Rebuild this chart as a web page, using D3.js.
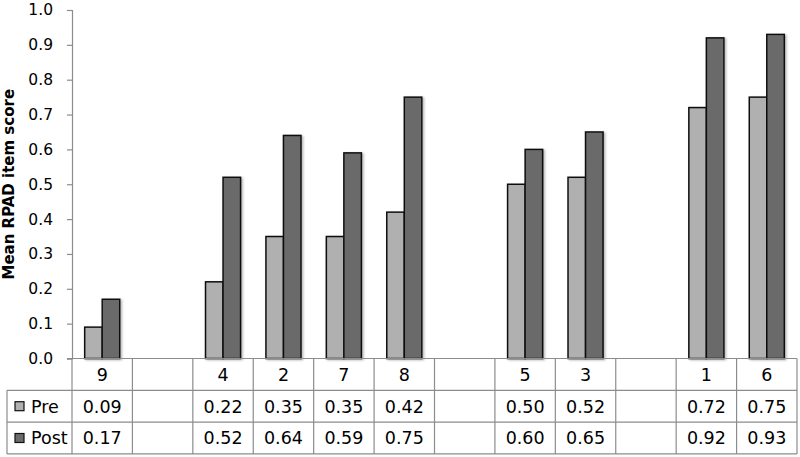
<!DOCTYPE html>
<html>
<head>
<meta charset="utf-8">
<script src="https://cdn.jsdelivr.net/npm/d3@7"></script>
<style>
    body { margin: 0; background: #fff; }
    svg { display: block; font-family: "DejaVu Sans", sans-serif; }
</style>
</head>
<body>
<div id="chart"></div>
<script>
// empty strings are the blank spacer columns of the original
const items = ['9', '', '4', '2', '7', '8', '', '5', '3', '', '1', '6'];
const pre = [0.09, null, 0.22, 0.35, 0.35, 0.42, null, 0.50, 0.52, null, 0.72, 0.75];
const post = [0.17, null, 0.52, 0.64, 0.59, 0.75, null, 0.60, 0.65, null, 0.92, 0.93];
const seriesNames = ['Pre', 'Post'];
const seriesColors = ['#b0b0b0', '#6b6b6b'];
const yTicks = [0, 0.1, 0.2, 0.3, 0.4, 0.5, 0.6, 0.7, 0.8, 0.9, 1.0];

const width = 800;
const height = 457;
const area = { left: 72, right: 797, top: 10, bottom: 358.5 };
const rowH = 31.8;
const legendLeft = 7;

const svg = d3.select('#chart')
    .append('svg')
    .attr('width', width)
    .attr('height', height);

const defs = svg.append('defs');
defs.append('filter')
    .attr('id', 'shadow')
    .attr('x', '-20%').attr('y', '-20%').attr('width', '150%').attr('height', '150%')
    .append('feDropShadow')
    .attr('dx', 1.5).attr('dy', 1).attr('stdDeviation', 1)
    .attr('flood-color', '#000').attr('flood-opacity', 0.3);

const xScale = d3.scaleBand()
    .domain(d3.range(items.length))
    .range([area.left, area.right])
    .padding(0);

const inner = d3.scaleBand()
    .domain(seriesNames)
    .range([xScale.bandwidth() * 0.21, xScale.bandwidth() * 0.79])
    .padding(0);

const yScale = d3.scaleLinear().domain([0, 1]).range([area.bottom, area.top]);

// y axis
const yAxis = svg.append('g')
    .attr('transform', `translate(${area.left},0)`)
    .call(d3.axisLeft(yScale).tickValues(yTicks).tickFormat(d3.format('.1f')).tickSize(5).tickPadding(14));
yAxis.select('.domain').attr('stroke', '#8c8c8c').attr('stroke-width', 1.2);
yAxis.selectAll('.tick line').attr('stroke', '#8c8c8c').attr('stroke-width', 1.2);
yAxis.selectAll('.tick text')
    .attr('font-family', '"DejaVu Sans", sans-serif')
    .attr('font-size', 15.5)
    .attr('fill', '#000');

svg.append('text')
    .attr('transform', `translate(14,${(area.top + area.bottom) / 2}) rotate(-90)`)
    .attr('text-anchor', 'middle')
    .attr('font-size', 15)
    .attr('font-weight', 'bold')
    .text('Mean RPAD item score');

// bars
const values = [pre, post];
const bars = svg.append('g').attr('filter', 'url(#shadow)');
seriesNames.forEach((name, si) => {
    bars.selectAll(null)
        .data(items.map((item, i) => ({ i, v: values[si][i] })).filter((d) => d.v != null))
        .join('rect')
        .attr('x', (d) => xScale(d.i) + inner(name))
        .attr('width', inner.bandwidth())
        .attr('y', (d) => yScale(d.v))
        .attr('height', (d) => yScale(0) - yScale(d.v))
        .attr('fill', seriesColors[si])
        .attr('stroke', '#111')
        .attr('stroke-width', 1.5);
});

// data table
const table = svg.append('g')
    .attr('stroke', '#8c8c8c')
    .attr('stroke-width', 1.2)
    .attr('fill', 'none');
const t0 = area.bottom;
table.append('line')
    .attr('x1', area.left - 5).attr('x2', area.right)
    .attr('y1', t0).attr('y2', t0);
[1, 2, 3].forEach((r) => {
    table.append('line')
        .attr('x1', legendLeft).attr('x2', area.right)
        .attr('y1', t0 + r * rowH).attr('y2', t0 + r * rowH);
});
d3.range(items.length + 1).forEach((i) => {
    const x = i < items.length ? xScale(i) : area.right;
    table.append('line')
        .attr('x1', x).attr('x2', x)
        .attr('y1', t0).attr('y2', t0 + 3 * rowH);
});
table.append('line')
    .attr('x1', legendLeft).attr('x2', legendLeft)
    .attr('y1', t0 + rowH).attr('y2', t0 + 3 * rowH);

const cells = svg.append('g')
    .attr('font-size', 17.5)
    .attr('text-anchor', 'middle')
    .attr('fill', '#000');

cells.selectAll('.head')
    .data(items)
    .join('text')
    .attr('x', (d, i) => xScale(i) + xScale.bandwidth() / 2)
    .attr('y', t0 + rowH / 2)
    .attr('dy', '0.36em')
    .text((d) => d);

seriesNames.forEach((name, si) => {
    const yMid = t0 + rowH * (si + 1.5);
    cells.selectAll(null)
        .data(values[si])
        .join('text')
        .attr('x', (d, i) => xScale(i) + xScale.bandwidth() / 2)
        .attr('y', yMid)
        .attr('dy', '0.36em')
        .text((d) => (d == null ? '' : d3.format('.2f')(d)));

    svg.append('rect')
        .attr('x', 15).attr('y', yMid - 4.5)
        .attr('width', 9).attr('height', 9)
        .attr('fill', seriesColors[si])
        .attr('stroke', '#111')
        .attr('stroke-width', 1.2);
    svg.append('text')
        .attr('x', 31).attr('y', yMid)
        .attr('dy', '0.36em')
        .attr('font-size', 17.5)
        .text(name);
});
</script>
</body>
</html>
